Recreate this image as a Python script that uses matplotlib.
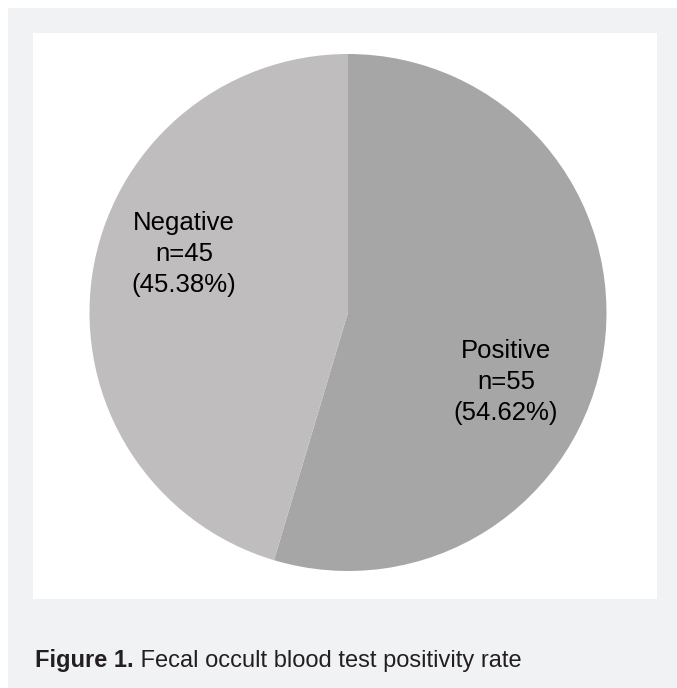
import matplotlib.pyplot as plt
from matplotlib.patches import Rectangle

# Data
categories = ['Positive', 'Negative']
counts = [55, 45]
percents = [54.62, 45.38]
colors = ['#a6a6a6', '#bfbdbe']

W, H = 677, 688
fig = plt.figure(figsize=(W / 100, H / 100), dpi=100)
fig.patch.set_facecolor('white')
ax = fig.add_axes([0, 0, 1, 1])

# outer gray panel and white chart area
ax.add_patch(Rectangle((8, 0), W - 8, H - 8, facecolor='#f1f2f4', edgecolor='none', zorder=0))
ax.add_patch(Rectangle((33, H - 599), 657 - 33, 599 - 33, facecolor='white', edgecolor='none', zorder=1))

# pie
cx, cy, r = 348, H - 312.5, 258.5
wedges, _ = ax.pie(percents, colors=colors, startangle=90, counterclock=False,
                   center=(cx, cy), radius=r, frame=True,
                   wedgeprops=dict(linewidth=0))
for w in wedges:
    w.set_zorder(2)
ax.set_xlim(0, W)
ax.set_ylim(0, H)
ax.set_aspect('equal')
ax.axis('off')

label_font = ['Liberation Sans', 'DejaVu Sans']
label_pos = {'Negative': (184, H - 254), 'Positive': (506, H - 382)}
for cat, n, p in zip(categories, counts, percents):
    x, y = label_pos[cat]
    ax.text(x, y, f'{cat}\nn={n}\n({p:.2f}%)', ha='center', va='center',
            fontsize=18.5, family=label_font, color='black', linespacing=1.38, zorder=3)

# caption
cap_font = ['Liberation Sans', 'DejaVu Sans']
t1 = ax.text(35, H - 667, 'Figure 1.', ha='left', va='baseline', fontsize=17,
             fontweight='bold', family=cap_font, color='#231f20', zorder=3)
ax.annotate(' Fecal occult blood test positivity rate', xy=(1, 0), xycoords=t1,
            ha='left', va='bottom', fontsize=17, family=cap_font,
            color='#231f20', zorder=3)

fig.savefig('out.png', dpi=100)
